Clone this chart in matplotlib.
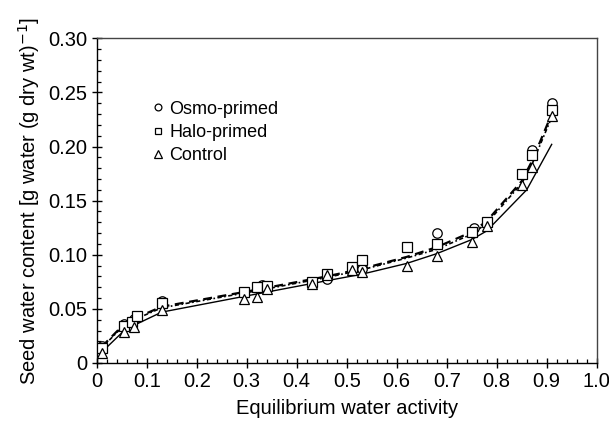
import matplotlib
matplotlib.use("Agg")
import matplotlib.pyplot as plt
from matplotlib.ticker import MultipleLocator, FuncFormatter

plt.rcParams['font.family'] = ['Liberation Sans', 'DejaVu Sans']

# Observed data
osmo_x = [0.01, 0.055, 0.075, 0.13, 0.33, 0.46, 0.53, 0.68, 0.755, 0.78, 0.87, 0.91]
osmo_y = [0.016, 0.036, 0.041, 0.057, 0.072, 0.078, 0.087, 0.120, 0.125, 0.130, 0.197, 0.240]

halo_x = [0.01, 0.055, 0.07, 0.08, 0.13, 0.295, 0.32, 0.34, 0.43, 0.46, 0.51, 0.53, 0.62, 0.68, 0.75, 0.78, 0.85, 0.87, 0.91]
halo_y = [0.014, 0.034, 0.038, 0.043, 0.055, 0.066, 0.070, 0.071, 0.075, 0.082, 0.089, 0.095, 0.107, 0.110, 0.121, 0.130, 0.175, 0.192, 0.234]

ctrl_x = [0.01, 0.055, 0.075, 0.13, 0.295, 0.32, 0.34, 0.43, 0.46, 0.51, 0.53, 0.62, 0.68, 0.75, 0.78, 0.85, 0.87, 0.91]
ctrl_y = [0.009, 0.029, 0.033, 0.049, 0.059, 0.061, 0.068, 0.073, 0.081, 0.086, 0.084, 0.090, 0.099, 0.112, 0.127, 0.164, 0.181, 0.228]

# Fitted curves
fit_x = [0.01, 0.055, 0.08, 0.13, 0.30, 0.46, 0.53, 0.62, 0.68, 0.75, 0.78, 0.85, 0.87, 0.91]
fit_osmo = [0.015, 0.036, 0.042, 0.052, 0.066, 0.080, 0.087, 0.098, 0.107, 0.121, 0.131, 0.168, 0.186, 0.230]
fit_halo = [0.014, 0.035, 0.041, 0.051, 0.065, 0.079, 0.086, 0.097, 0.105, 0.119, 0.129, 0.166, 0.183, 0.227]
fit_ctrl_x = [0.01, 0.055, 0.08, 0.13, 0.30, 0.46, 0.53, 0.62, 0.68, 0.75, 0.78, 0.86, 0.91]
fit_ctrl = [0.010, 0.030, 0.036, 0.047, 0.062, 0.076, 0.082, 0.092, 0.101, 0.114, 0.122, 0.160, 0.202]

xticks = [0, 0.1, 0.2, 0.3, 0.4, 0.5, 0.6, 0.7, 0.8, 0.9, 1.0]
yticks = [0, 0.05, 0.10, 0.15, 0.20, 0.25, 0.30]

fig = plt.figure(figsize=(6.09, 4.24), dpi=100)
ax = fig.add_axes([0.1588, 0.1439, 0.8210, 0.7658])

ax.plot(fit_ctrl_x, fit_ctrl, color='black', lw=1.0, zorder=2)
ax.plot(fit_x, fit_osmo, color='black', lw=1.6, dashes=(4, 2.5), zorder=2)
ax.plot(fit_x, fit_halo, color='black', lw=1.2, dashes=(2.5, 1.5, 1, 1.5), zorder=2)

ms = 6.8
ax.plot(osmo_x, osmo_y, 'o', mfc='white', mec='black', mew=0.9, ms=ms, ls='none', label='Osmo-primed', zorder=3)
ax.plot(halo_x, halo_y, 's', mfc='white', mec='black', mew=0.9, ms=ms, ls='none', label='Halo-primed', zorder=3)
ax.plot(ctrl_x, ctrl_y, '^', mfc='white', mec='black', mew=0.9, ms=ms + 0.5, ls='none', label='Control', zorder=3)

ax.set_xlim(0, 1.0)
ax.set_ylim(0, 0.30)
ax.set_xticks(xticks)
ax.set_yticks(yticks)
ax.xaxis.set_minor_locator(MultipleLocator(0.02))
ax.yaxis.set_minor_locator(MultipleLocator(0.01))
ax.xaxis.set_major_formatter(FuncFormatter(lambda v, p: '0' if abs(v) < 1e-9 else f'{v:.1f}'))
ax.yaxis.set_major_formatter(FuncFormatter(lambda v, p: '0' if abs(v) < 1e-9 else f'{v:.2f}'))

ax.tick_params(which='major', direction='inout', length=7, width=1.0, labelsize=14.5, pad=3)
ax.tick_params(which='minor', direction='in', length=3, width=0.9)
ax.tick_params(top=False, right=False, which='both')

for s in ['left', 'bottom']:
    ax.spines[s].set_linewidth(1.0)
for s in ['top', 'right']:
    ax.spines[s].set_linewidth(1.0)
    ax.spines[s].set_color('#444444')

ax.set_xlabel('Equilibrium water activity', fontsize=14.5, labelpad=6)
ax.set_ylabel('Seed water content [g water (g dry wt)$^{-1}$]', fontsize=14.5, labelpad=5)

leg = ax.legend(loc='upper left', bbox_to_anchor=(0.097, 0.83), frameon=False, fontsize=13,
                handlelength=0.6, handletextpad=0.35, labelspacing=0.35, markerscale=0.72, borderaxespad=0)

fig.savefig('out.png', dpi=100)
